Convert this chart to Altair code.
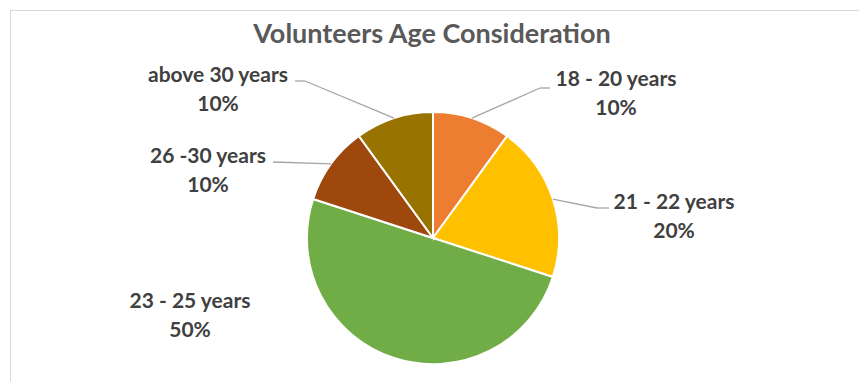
import math
import altair as alt
import pandas as pd

# ---- data ----
categories = ["18 - 20 years", "21 - 22 years", "23 - 25 years", "26 -30 years", "above 30 years"]
values = [10, 20, 50, 10, 10]
colors = ["#ED7D31", "#FFC000", "#70AD47", "#9E480E", "#997300"]
title_text = "Volunteers Age Consideration"

# ---- layout (chart pixel coordinates, page offset 8px) ----
CX, CY, R = 425, 230, 126
LINE_GAP = 29
# label centre of first line, leader elbow and leader end (None = no leader)
label_layout = {
    "18 - 20 years": dict(lx=608, ly=72, ex=532, ey=80, tx=542, ty=80),
    "21 - 22 years": dict(lx=666, ly=195, ex=589, ey=200, tx=601, ty=200),
    "23 - 25 years": dict(lx=182, ly=294, ex=None, ey=None, tx=None, ty=None),
    "26 -30 years": dict(lx=200, ly=149, ex=265, ey=154, tx=265, ty=154),
    "above 30 years": dict(lx=210, ly=68, ex=297, ey=73, tx=287, ty=73),
}

total = sum(values)
rows = []
cum = 0
for i, (c, v) in enumerate(zip(categories, values)):
    mid = (cum + v / 2) / total * 2 * math.pi
    cum += v
    L = label_layout[c]
    rows.append(dict(
        category=c, value=v, order=i,
        pct=f"{round(v / total * 100)}%",
        sx=CX + R * math.sin(mid), sy=CY - R * math.cos(mid),
        lx=L["lx"], ly=L["ly"], ly2=L["ly"] + LINE_GAP,
        ex=L["ex"], ey=L["ey"], tx=L["tx"], ty=L["ty"],
    ))
df = pd.DataFrame(rows)

base = alt.Chart(df)

border = alt.Chart(pd.DataFrame({"a": [0]})).mark_rect(
    fill=None, stroke="#D9D9D9", strokeWidth=1
).encode(x=alt.value(2.5), y=alt.value(2.5), x2=alt.value(1500), y2=alt.value(1500))

pie = base.mark_arc(outerRadius=R, stroke="white", strokeWidth=2).encode(
    theta=alt.Theta("value:Q", stack=True),
    order=alt.Order("order:Q", sort="ascending"),
    color=alt.Color("category:N", scale=alt.Scale(domain=categories, range=colors), legend=None),
    x=alt.value(CX), y=alt.value(CY),
)

lines = base.transform_filter("datum.ex != null")
seg1 = lines.mark_rule(color="#A6A6A6", strokeWidth=1.3).encode(
    x=alt.X("sx:Q", scale=None), y=alt.Y("sy:Q", scale=None),
    x2="ex:Q", y2="ey:Q",
)
seg2 = lines.mark_rule(color="#A6A6A6", strokeWidth=1.3).encode(
    x=alt.X("ex:Q", scale=None), y=alt.Y("ey:Q", scale=None),
    x2="tx:Q", y2="ty:Q",
)

txt_style = dict(font="Lato", fontWeight="bold", fontSize=21, color="#404040",
                 align="center", baseline="middle")
name_txt = base.mark_text(**txt_style).encode(
    x=alt.X("lx:Q", scale=None), y=alt.Y("ly:Q", scale=None), text="category:N"
)
pct_txt = base.mark_text(**txt_style).encode(
    x=alt.X("lx:Q", scale=None), y=alt.Y("ly2:Q", scale=None), text="pct:N"
)

title = alt.Chart(pd.DataFrame({"t": [title_text]})).mark_text(
    font="Lato", fontWeight="bold", fontSize=27, color="#595959",
    align="center", baseline="middle"
).encode(x=alt.value(424), y=alt.value(27), text="t:N")

chart = alt.layer(border, pie, seg1, seg2, name_txt, pct_txt, title).properties(
    width=851, height=374, padding=0, autosize=alt.AutoSizeParams(type="none")
).configure_view(stroke=None)

chart.save("out.html", embed_options={"renderer": "svg", "actions": False})
